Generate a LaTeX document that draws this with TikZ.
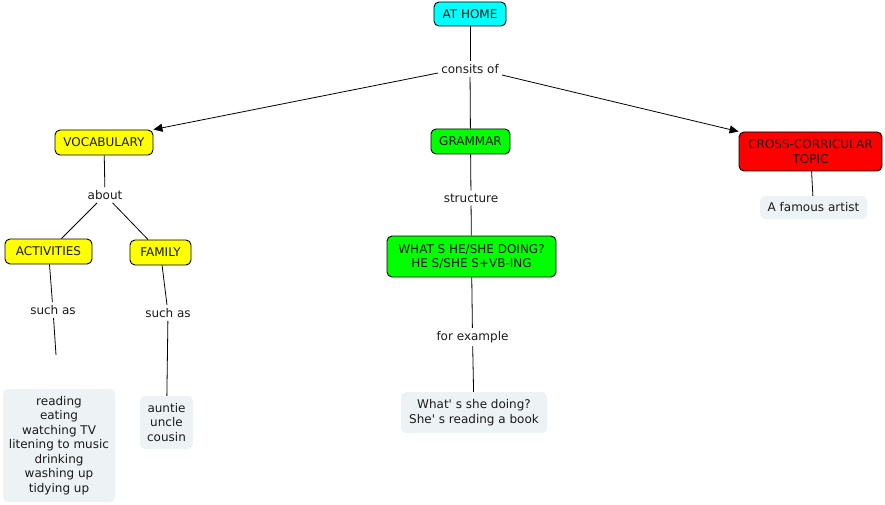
\documentclass[tikz,border=0pt]{standalone}
\usepackage{fontspec}
\setmainfont{DejaVu Sans}[Ligatures=TeXOff]
\usetikzlibrary{arrows.meta}
\definecolor{boxline}{HTML}{000000}
\definecolor{lightbox}{HTML}{EDF2F4}
\definecolor{txt}{HTML}{1A1A1A}
\definecolor{cyanfill}{HTML}{00FFFF}
\definecolor{yellowfill}{HTML}{FFFF00}
\definecolor{greenfill}{HTML}{00FF00}
\definecolor{redfill}{HTML}{FF0000}
\tikzset{
  concept/.style={draw=boxline, line width=0.9pt, rounded corners=5pt, align=center, text=txt, inner sep=2pt},
  leaf/.style={fill=lightbox, rounded corners=5pt, align=center, text=txt, inner sep=2pt},
  lab/.style={align=center, text=txt, inner sep=3pt, fill=white},
  conn/.style={line width=0.8pt, draw=black},
  arr/.style={conn, -{Triangle[length=9pt,width=8pt]}},
}
\begin{document}
\begin{tikzpicture}[x=1pt,y=-1pt,font=\fontsize{12}{14.5}\selectfont]
\useasboundingbox (0,0) rectangle (885,505);
% concepts
\node[concept, fill=cyanfill, minimum width=72pt, minimum height=24pt] (home) at (470,14) {AT HOME};
\node[concept, fill=yellowfill, minimum width=98pt, minimum height=25pt] (voc) at (104,142.5) {VOCABULARY};
\node[concept, fill=greenfill, minimum width=79pt, minimum height=25pt] (gram) at (470.5,141.5) {GRAMMAR};
\node[concept, fill=redfill, minimum width=143pt, minimum height=39pt] (cross) at (810.5,151.5) {CROSS-CORRICULAR\\TOPIC};
\node[concept, fill=yellowfill, minimum width=87pt, minimum height=25pt] (act) at (48.5,251.5) {ACTIVITIES};
\node[concept, fill=yellowfill, minimum width=61pt, minimum height=25pt] (fam) at (160.5,252.5) {FAMILY};
\node[concept, fill=greenfill, minimum width=169pt, minimum height=41pt] (what) at (471.5,256.5) {WHAT S HE/SHE DOING?\\HE S/SHE S+VB-ING};
% leaves
\node[leaf, minimum width=112pt, minimum height=113pt] (list) at (59,445.5) {reading\\eating\\watching TV\\litening to music\\drinking\\washing up\\tidying up};
\node[leaf, minimum width=53pt, minimum height=53pt] (fam2) at (166.5,422.5) {auntie\\uncle\\cousin};
\node[leaf, minimum width=146pt, minimum height=41pt] (ex) at (474,412.5) {What' s she doing?\\She' s reading a book};
\node[leaf, minimum width=107pt, minimum height=23pt] (artist) at (813.5,207.5) {A famous artist};
% linking labels
\node[lab] (consits) at (470,69) {consits of};
\node[lab] (about) at (105,195) {about};
\node[lab] (such1) at (53,310) {such as};
\node[lab] (such2) at (168,313) {such as};
\node[lab] (struct) at (471,198) {structure};
\node[lab] (forex) at (472.5,337) {for example};
\coordinate (end1) at (56,355);
% connectors
\draw[conn] (home) -- (consits);
\draw[arr] (consits.west) ++(0,4) coordinate (cw) (cw) -- (voc.north east);
\draw[conn] (consits) -- (gram);
\draw[arr] (consits.east) ++(0,6) coordinate (ce) (ce) -- (cross.north west);
\draw[conn] (voc) -- (about);
\draw[conn] (about) -- (act);
\draw[conn] (about) -- (fam);
\draw[conn] (act) -- (such1);
\draw[conn] (such1) -- (end1);
\draw[conn] (fam) -- (such2);
\draw[conn] (such2) -- (fam2);
\draw[conn] (gram) -- (struct);
\draw[conn] (struct) -- (what);
\draw[conn] (what) -- (forex);
\draw[conn] (forex) -- (ex);
\draw[conn] (cross) -- (artist);
\end{tikzpicture}
\end{document}
